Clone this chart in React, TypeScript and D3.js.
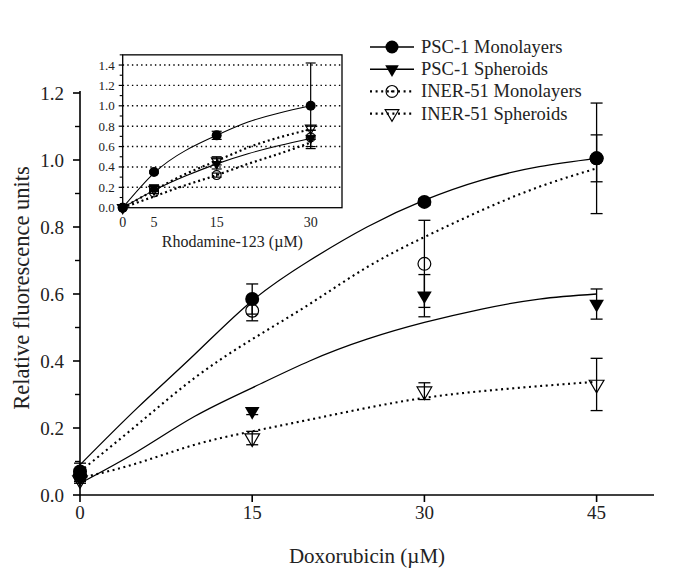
import React from "react";
import * as d3 from "d3";

// ---------- Main chart data (Doxorubicin) ----------
const mainX = [0, 15, 30, 45];
const pscMono = [0.07, 0.585, 0.875, 1.005];
const pscMonoErr = [0.025, 0.045, 0.01, 0.165];
const pscSph = [0.05, 0.25, 0.595, 0.57];
const pscSphErr = [0.01, 0.01, 0.063, 0.045];
const inerMono = [0.06, 0.55, 0.69, 1.005];
const inerMonoErr = [0.01, 0.03, 0.13, 0.07];
const inerSph = [0.045, 0.17, 0.31, 0.33];
const inerSphErr = [0.01, 0.02, 0.025, 0.078];

const fitX = [0, 5, 10, 15, 20, 25, 30, 35, 40, 45];
const pscMonoFit = [0.09, 0.26, 0.42, 0.58, 0.7, 0.8, 0.88, 0.94, 0.98, 1.005];
const inerMonoFit = [0.07, 0.21, 0.35, 0.465, 0.57, 0.68, 0.77, 0.85, 0.92, 0.975];
const pscSphFit = [0.035, 0.13, 0.235, 0.32, 0.4, 0.465, 0.515, 0.555, 0.585, 0.6];
const inerSphFit = [0.05, 0.095, 0.15, 0.19, 0.225, 0.26, 0.29, 0.31, 0.325, 0.338];

const mainXTicks = [0, 15, 30, 45];
const mainYTicks = [0, 0.2, 0.4, 0.6, 0.8, 1.0, 1.2];
const mainYMinor = [0.1, 0.3, 0.5, 0.7, 0.9, 1.1];

// ---------- Inset data (Rhodamine-123) ----------
const inX = [0, 5, 15, 30];
const pscMonoIn = [0, 0.35, 0.71, 1.0];
const pscMonoInErr = [0, 0.01, 0.04, 0.42];
const pscSphIn = [0, 0.2, 0.43, 0.68];
const pscSphInErr = [0, 0.02, 0.05, 0.08];
const inerMonoIn = [0, 0.15, 0.32, 0.69];
const inerMonoInErr = [0, 0.01, 0.02, 0.02];
const inerSphIn = [0, 0.18, 0.46, 0.78];
const inerSphInErr = [0, 0.01, 0.04, 0.02];

const inFitX = [0, 5, 10, 15, 20, 25, 30];
const pscMonoInFit = [0, 0.34, 0.56, 0.71, 0.84, 0.93, 1.0];
const pscSphInFit = [0, 0.17, 0.31, 0.43, 0.53, 0.61, 0.68];
const inerSphInFit = [0, 0.17, 0.33, 0.46, 0.59, 0.69, 0.77];
const inerMonoInFit = [0, 0.11, 0.22, 0.32, 0.43, 0.53, 0.64];

const inXTicks = [0, 5, 15, 30];
const inYTicks = [0, 0.2, 0.4, 0.6, 0.8, 1.0, 1.2, 1.4];
const inYMinor = [0.1, 0.3, 0.5, 0.7, 0.9, 1.1, 1.3, 1.5];
const inGrid = [0.2, 0.4, 0.6, 0.8, 1.0, 1.2, 1.4];

const legendLabels = [
  "PSC-1 Monolayers",
  "PSC-1 Spheroids",
  "INER-51 Monolayers",
  "INER-51 Spheroids",
];

const FONT = "'Liberation Serif', 'Times New Roman', serif";

type Shape = "circle" | "tri" | "ocircle" | "otri";

function Marker({ shape, x, y, s }: { shape: Shape; x: number; y: number; s: number }) {
  if (shape === "circle") return <circle cx={x} cy={y} r={s / 2} fill="#000" />;
  if (shape === "ocircle")
    return <circle cx={x} cy={y} r={s / 2 - 0.6} fill="none" stroke="#000" strokeWidth={1.2} />;
  const w = s * 1.05;
  const h = s * 0.9;
  const p = `M${x - w / 2},${y - h / 3}L${x + w / 2},${y - h / 3}L${x},${y + (2 * h) / 3}Z`;
  if (shape === "tri") return <path d={p} fill="#000" />;
  return <path d={p} fill="none" stroke="#000" strokeWidth={1.2} strokeLinejoin="miter" />;
}

export default function App() {
  const W = 685;
  const H = 572;

  // main scales
  const x = d3.scaleLinear().domain([0, 50]).range([80, 654]);
  const y = d3.scaleLinear().domain([0, 1.2]).range([495, 93]);
  // inset scales
  const xi = d3.scaleLinear().domain([0, 35]).range([122.7, 342]);
  const yi = d3.scaleLinear().domain([0, 1.5]).range([207.7, 54.85]);

  const lineMain = (vals: number[]) =>
    d3
      .line<number>()
      .x((_, i) => x(fitX[i]))
      .y((v) => y(v))
      .curve(d3.curveNatural)(vals) as string;
  const lineIn = (vals: number[]) =>
    d3
      .line<number>()
      .x((_, i) => xi(inFitX[i]))
      .y((v) => yi(v))
      .curve(d3.curveNatural)(vals) as string;

  const mainSeries = [
    { v: pscMono, e: pscMonoErr, shape: "circle" as Shape },
    { v: pscSph, e: pscSphErr, shape: "tri" as Shape },
    { v: inerMono, e: inerMonoErr, shape: "ocircle" as Shape },
    { v: inerSph, e: inerSphErr, shape: "otri" as Shape },
  ];
  const inSeries = [
    { v: pscMonoIn, e: pscMonoInErr, shape: "circle" as Shape },
    { v: pscSphIn, e: pscSphInErr, shape: "tri" as Shape },
    { v: inerMonoIn, e: inerMonoInErr, shape: "ocircle" as Shape },
    { v: inerSphIn, e: inerSphInErr, shape: "otri" as Shape },
  ];
  const drawOrder = [3, 2, 1, 0];

  const dotted = { strokeDasharray: "2,3.6", strokeWidth: 2.1, strokeLinecap: "butt" as const };

  return (
    <svg
      width={W}
      height={H}
      style={{ position: "absolute", left: 0, top: 0, background: "#fff" }}
      fontFamily={FONT}
    >
      <rect width={W} height={H} fill="#fff" />

      {/* ---------- main axes ---------- */}
      <line x1={x(0)} x2={x(50)} y1={y(0)} y2={y(0)} stroke="#000" strokeWidth={1.6} />
      <line x1={x(0)} x2={x(0)} y1={y(0)} y2={y(1.2) - 2} stroke="#000" strokeWidth={1.6} />
      {mainXTicks.map((t) => (
        <g key={"xt" + t}>
          <line x1={x(t)} x2={x(t)} y1={y(0)} y2={y(0) + 7} stroke="#000" strokeWidth={1.6} />
          <text x={x(t)} y={y(0) + 24} fontSize={19} textAnchor="middle" fill="#222">
            {t}
          </text>
        </g>
      ))}
      {mainYTicks.map((t) => (
        <g key={"yt" + t}>
          <line x1={x(0) - 7} x2={x(0)} y1={y(t)} y2={y(t)} stroke="#000" strokeWidth={1.6} />
          <text x={x(0) - 16} y={y(t) + 6.5} fontSize={19} textAnchor="end" fill="#222">
            {t.toFixed(1)}
          </text>
        </g>
      ))}
      {mainYMinor.map((t) => (
        <line key={"ym" + t} x1={x(0) - 5} x2={x(0)} y1={y(t)} y2={y(t)} stroke="#000" strokeWidth={1.4} />
      ))}
      <text x={(x(0) + x(50)) / 2} y={563} fontSize={21} textAnchor="middle" fill="#222">
        Doxorubicin (µM)
      </text>
      <text
        transform={`translate(29,${(y(0) + y(1.2)) / 2 - 6}) rotate(-90)`}
        fontSize={22.5}
        textAnchor="middle"
        fill="#222"
      >
        Relative fluorescence units
      </text>

      {/* main fit lines */}
      <path d={lineMain(pscMonoFit)} fill="none" stroke="#000" strokeWidth={1.3} />
      <path d={lineMain(pscSphFit)} fill="none" stroke="#000" strokeWidth={1.3} />
      <path d={lineMain(inerMonoFit)} fill="none" stroke="#000" {...dotted} />
      <path d={lineMain(inerSphFit)} fill="none" stroke="#000" {...dotted} />

      {/* main error bars */}
      {mainSeries.map((s, si) =>
        s.v.map((v, i) => {
          const cx = x(mainX[i]);
          const top = y(v + s.e[i]);
          const bot = y(v - s.e[i]);
          return (
            <g key={`me${si}-${i}`} stroke="#000" strokeWidth={1.3}>
              <line x1={cx} x2={cx} y1={top} y2={bot} />
              <line x1={cx - 6} x2={cx + 6} y1={top} y2={top} />
              <line x1={cx - 6} x2={cx + 6} y1={bot} y2={bot} />
            </g>
          );
        })
      )}
      {/* main markers */}
      {drawOrder.map((si) =>
        mainSeries[si].v.map((v, i) => (
          <Marker key={`mm${si}-${i}`} shape={mainSeries[si].shape} x={x(mainX[i])} y={y(v)} s={14} />
        ))
      )}

      {/* ---------- inset ---------- */}
      <rect x={xi(0)} y={yi(1.5)} width={xi(35) - xi(0)} height={yi(0) - yi(1.5)} fill="#fff" />
      {inGrid.map((t) => (
        <line
          key={"ig" + t}
          x1={xi(0)}
          x2={xi(35)}
          y1={yi(t)}
          y2={yi(t)}
          stroke="#000"
          strokeWidth={1.4}
          strokeDasharray="1.4,3.2"
        />
      ))}
      <rect
        x={xi(0)}
        y={yi(1.5)}
        width={xi(35) - xi(0)}
        height={yi(0) - yi(1.5)}
        fill="none"
        stroke="#000"
        strokeWidth={1.3}
      />
      {inYTicks.map((t) => (
        <g key={"iyt" + t}>
          <line x1={xi(0) - 4} x2={xi(0)} y1={yi(t)} y2={yi(t)} stroke="#000" strokeWidth={1.2} />
          <text x={xi(0) - 8} y={yi(t) + 4.5} fontSize={13} textAnchor="end" fill="#222">
            {t.toFixed(1)}
          </text>
        </g>
      ))}
      {inYMinor.map((t) => (
        <line key={"iym" + t} x1={xi(0) - 3} x2={xi(0)} y1={yi(t)} y2={yi(t)} stroke="#000" strokeWidth={1.1} />
      ))}
      {inXTicks.map((t) => (
        <text key={"ixt" + t} x={xi(t)} y={yi(0) + 19} fontSize={14} textAnchor="middle" fill="#222">
          {t}
        </text>
      ))}
      <text x={(xi(0) + xi(35)) / 2} y={247} fontSize={16} textAnchor="middle" fill="#222">
        Rhodamine-123 (µM)
      </text>

      <path d={lineIn(pscMonoInFit)} fill="none" stroke="#000" strokeWidth={1.1} />
      <path d={lineIn(pscSphInFit)} fill="none" stroke="#000" strokeWidth={1.1} />
      <path d={lineIn(inerSphInFit)} fill="none" stroke="#000" strokeWidth={2.2} strokeDasharray="2,3" />
      <path d={lineIn(inerMonoInFit)} fill="none" stroke="#000" strokeWidth={2.2} strokeDasharray="2,3" />

      {inSeries.map((s, si) =>
        s.v.map((v, i) => {
          if (s.e[i] <= 0) return null;
          const cx = xi(inX[i]);
          const top = yi(v + s.e[i]);
          const bot = yi(v - s.e[i]);
          return (
            <g key={`ie${si}-${i}`} stroke="#000" strokeWidth={1.2}>
              <line x1={cx} x2={cx} y1={top} y2={bot} />
              <line x1={cx - 5} x2={cx + 5} y1={top} y2={top} />
              <line x1={cx - 5} x2={cx + 5} y1={bot} y2={bot} />
            </g>
          );
        })
      )}
      {drawOrder.map((si) =>
        inSeries[si].v.map((v, i) => (
          <Marker key={`im${si}-${i}`} shape={inSeries[si].shape} x={xi(inX[i])} y={yi(v)} s={10} />
        ))
      )}

      {/* ---------- legend ---------- */}
      {legendLabels.map((lab, i) => {
        const ly = 47 + i * 22.2;
        const shape: Shape = (["circle", "tri", "ocircle", "otri"] as Shape[])[i];
        const isDotted = i >= 2;
        return (
          <g key={"lg" + i}>
            <line
              x1={370}
              x2={414}
              y1={ly}
              y2={ly}
              stroke="#000"
              {...(isDotted ? dotted : { strokeWidth: 1.6 })}
            />
            {i === 2 && <circle cx={392} cy={ly} r={1.1} fill="#000" />}
            <Marker shape={shape} x={392} y={ly} s={13} />
            <text x={421} y={ly + 6} fontSize={18.5} fill="#222">
              {lab}
            </text>
          </g>
        );
      })}
    </svg>
  );
}
